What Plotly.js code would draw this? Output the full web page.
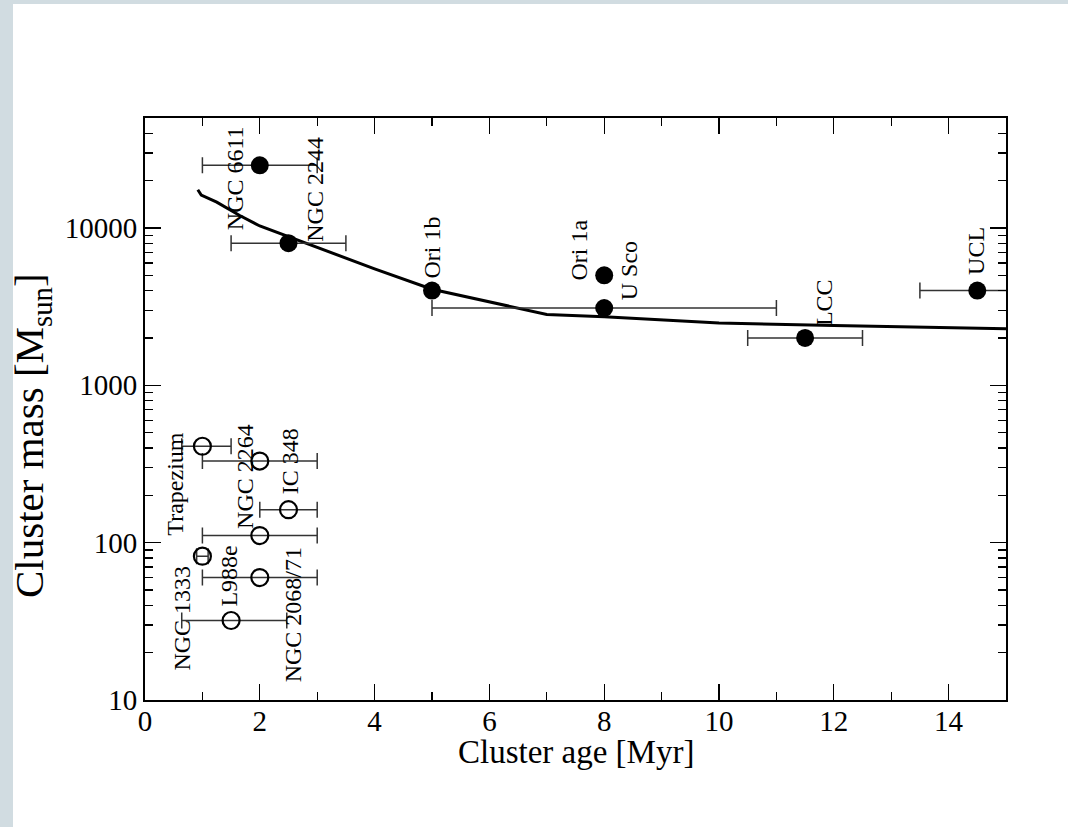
<!DOCTYPE html>
<html>
<head>
<meta charset="utf-8">
<script src="https://cdn.plot.ly/plotly-3.0.1.min.js"></script>
<style>
  html, body { margin: 0; padding: 0; background: #d1dce1; width: 1068px; height: 827px; overflow: hidden; }
  #chart { position: absolute; left: 0; top: 0; width: 1068px; height: 827px; }
</style>
</head>
<body>
<div id="chart"></div>
<script>
// ---- data ----
const filledNames = ['NGC 6611', 'NGC 2244', 'Ori 1b', 'Ori 1a', 'U Sco', 'LCC', 'UCL'];
const filledAge = [2, 2.5, 5, 8, 8, 11.5, 14.5];
const filledMass = [25000, 8000, 4000, 5000, 3100, 2000, 4000];
const filledAgeErr = [1, 1, NaN, NaN, 3, 1, 1];

const openNames = ['Trapezium', 'NGC 2264', 'IC 348', '', 'L988e', 'NGC 2068/71', 'NGC 1333'];
const openAge = [1, 2, 2.5, 2, 1, 2, 1.5];
const openMass = [410, 330, 162, 111, 82, 60, 32];
const openAgeErrPlus = [0.5, 1, 0.5, 1, 0.1, 1, 0.97];
const openAgeErrMinus = [0.36, 1, 0.5, 1, 0.1, 1, 0.86];

const curveAge = [0.92, 0.98, 1.25, 1.65, 2, 3, 4, 5, 6, 7, 8, 10, 12, 15];
const curveMass = [17500, 16200, 14600, 12000, 10300, 7500, 5500, 4080, 3400, 2820, 2730, 2490, 2400, 2285];

const yTickVals = [10, 100, 1000, 10000];
const yTickText = ['10', '100', '1000', '10000'];

// ---- label placement (pixel offsets from the labelled point) ----
const labelShift = {
  'NGC 6611': [-24, -13], 'NGC 2244': [27, 54], 'Ori 1b': [0, 43], 'Ori 1a': [-25, 25],
  'U Sco': [25, 37], 'LCC': [19, 35], 'UCL': [-2, 40],
  'Trapezium': [-27, -38], 'NGC 2264': [-15, -15], 'IC 348': [1, 48],
  'L988e': [27, -20], 'NGC 2068/71': [33, -37], 'NGC 1333': [-50, 2]
};

const FONT = 'Liberation Serif, Times New Roman, serif';

const traces = [
  {
    x: curveAge, y: curveMass, type: 'scatter', mode: 'lines',
    line: { color: '#000', width: 3 }, hoverinfo: 'skip'
  },
  {
    x: openAge, y: openMass, type: 'scatter', mode: 'markers',
    marker: { symbol: 'circle-open', size: 17, color: '#000', line: { width: 2.2, color: '#000' } },
    error_x: { type: 'data', symmetric: false, array: openAgeErrPlus, arrayminus: openAgeErrMinus,
               color: '#333', thickness: 1.5, width: 8 }
  },
  {
    x: filledAge, y: filledMass, type: 'scatter', mode: 'markers',
    marker: { symbol: 'circle', size: 18, color: '#000' },
    error_x: { type: 'data', array: filledAgeErr, color: '#333', thickness: 1.5, width: 8 }
  }
];

const annotations = [];
function addLabels(names, xs, ys) {
  names.forEach((n, i) => {
    if (!n) return;
    const s = labelShift[n] || [0, 0];
    annotations.push({
      x: xs[i], y: Math.log10(ys[i]), xref: 'x', yref: 'y', text: n, showarrow: false,
      textangle: -90, xanchor: 'center', yanchor: 'middle', xshift: s[0], yshift: s[1],
      font: { family: FONT, size: 24, color: '#000' }
    });
  });
}
addLabels(filledNames, filledAge, filledMass);
addLabels(openNames, openAge, openMass);

annotations.push({
  xref: 'paper', yref: 'paper', x: 0.5, y: 0, xanchor: 'center', yanchor: 'middle', yshift: -52,
  text: 'Cluster age [Myr]', showarrow: false, font: { family: FONT, size: 33, color: '#000' }
});
annotations.push({
  xref: 'paper', yref: 'paper', x: 0, y: 0.5, xanchor: 'center', yanchor: 'middle', xshift: -113, yshift: -27,
  text: 'Cluster mass [M<sub>sun</sub>]', textangle: -90, showarrow: false,
  font: { family: FONT, size: 41, color: '#000' }
});

// white page panel on the grey-blue frame (page px -> paper fractions)
const plotL = 145, plotR = 1006, plotT = 118, plotB = 700;
const pw = plotR - plotL, ph = plotB - plotT;
const shapes = [{
  type: 'rect', xref: 'paper', yref: 'paper', layer: 'below',
  x0: (13 - plotL) / pw, x1: (1068 - plotL) / pw,
  y0: (plotB - 827) / ph, y1: (plotB - 4) / ph,
  fillcolor: '#ffffff', line: { width: 0 }
}];

const layout = {
  width: 1068, height: 827,
  margin: { l: plotL, r: 1068 - plotR, t: plotT, b: 827 - plotB },
  paper_bgcolor: '#d1dce1', plot_bgcolor: '#ffffff',
  showlegend: false,
  font: { family: FONT, color: '#000' },
  shapes: shapes,
  xaxis: {
    range: [0, 15], tick0: 0, dtick: 2, ticks: 'inside', ticklen: 16, tickwidth: 1.3, tickcolor: '#000',
    minor: { dtick: 1, ticks: 'inside', ticklen: 8, tickwidth: 1.3, tickcolor: '#000' },
    showline: true, linecolor: '#000', linewidth: 2, mirror: 'ticks',
    showgrid: false, zeroline: false, ticklabelstandoff: -6,
    tickfont: { family: FONT, size: 29, color: '#000' }
  },
  yaxis: {
    type: 'log', range: [1, Math.log10(50000)],
    tickmode: 'array', tickvals: yTickVals, ticktext: yTickText,
    ticks: 'inside', ticklen: 16, tickwidth: 1.3, tickcolor: '#000',
    minor: { dtick: 'D1', ticks: 'inside', ticklen: 8, tickwidth: 1.3, tickcolor: '#000', showgrid: false },
    showline: true, linecolor: '#000', linewidth: 2, mirror: 'ticks',
    showgrid: false, zeroline: false,
    tickfont: { family: FONT, size: 29, color: '#000' }
  },
  annotations: annotations
};

Plotly.newPlot('chart', traces, layout, { staticPlot: true, displayModeBar: false });
</script>
</body>
</html>
